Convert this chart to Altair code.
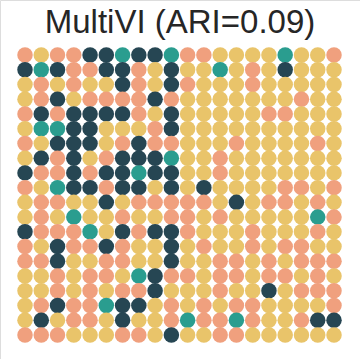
import altair as alt
import pandas as pd

title_text = "MultiVI (ARI=0.09)"

# cluster label per grid cell, row by row (top to bottom), 20 x 20
grid_rows = [
    "S Y S S D D T D D T S S Y Y Y Y T Y Y S",
    "D T D S S D D S Y D Y Y T Y S Y D Y Y Y",
    "Y S Y S Y Y D S Y D S Y Y Y S Y Y Y Y Y",
    "Y S D Y S S S S D S Y Y Y Y Y Y Y S Y Y",
    "S D S D D D D S Y D Y Y Y Y Y S S Y Y Y",
    "Y T T D D Y Y Y S D Y Y Y Y Y Y Y Y Y Y",
    "S Y D D D Y S D S S Y Y Y S Y Y Y Y S Y",
    "Y D S D Y S D D D T Y Y S Y Y Y Y Y Y Y",
    "D S S D S D D T D D Y Y S Y Y Y Y Y Y Y",
    "S Y T D D S D D Y D Y D Y Y Y Y S S Y S",
    "Y S S Y Y D Y S S S S S Y D Y S S Y S Y",
    "Y S Y T Y Y S Y Y S S Y S Y Y Y Y Y T S",
    "D S S S T Y D S D D S Y Y Y S Y Y Y S Y",
    "S Y D S S D S Y Y D Y S Y Y S Y S S Y Y",
    "S S D Y Y S S Y Y D Y Y S S Y S Y S S S",
    "Y Y S Y S S Y T D S S Y S S Y S S Y S Y",
    "Y Y S Y S Y S S D Y Y Y S Y Y D Y S S S",
    "Y S D S S T D D Y S Y S Y S S Y Y Y Y S",
    "Y D Y S S Y D Y Y S T S S T S Y Y S D D",
    "S S S Y Y Y S S Y D Y Y S S Y Y Y Y Y Y",
]

categories = ["D", "T", "Y", "S"]
palette = ["#264653", "#2A9D8F", "#E9C46A", "#F0A07E"]

records = []
for r, line in enumerate(grid_rows):
    for c, lab in enumerate(line.split()):
        records.append({"col": c, "row": r, "label": lab})
df = pd.DataFrame(records)

dots = alt.Chart(df).mark_circle(size=240, opacity=1).encode(
    x=alt.X("col:Q", scale=alt.Scale(domain=[0, 19], range=[25, 334]), axis=None),
    y=alt.Y("row:Q", scale=alt.Scale(domain=[0, 19], range=[55, 335]), axis=None),
    color=alt.Color("label:N", scale=alt.Scale(domain=categories, range=palette), legend=None),
)

title = alt.Chart(pd.DataFrame({"t": [title_text]})).mark_text(
    font="Liberation Sans", fontSize=33, color="#262626", baseline="alphabetic", align="center"
).encode(text="t:N", x=alt.value(180), y=alt.value(33))

chart = alt.layer(dots, title).properties(
    width=360, height=359, autosize=alt.AutoSizeParams(type="none"), padding=0
).configure_view(stroke=None).configure(background="white")

chart.save("out.html", embed_options={"renderer": "svg", "actions": False})
